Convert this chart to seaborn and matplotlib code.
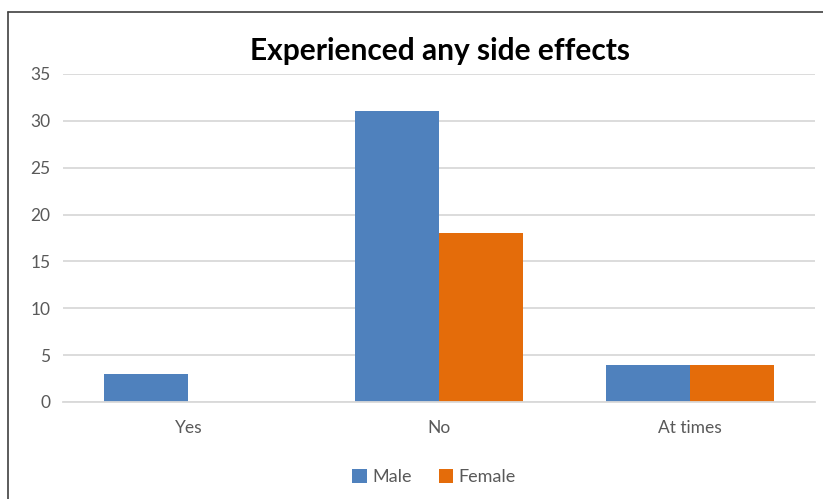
import matplotlib
matplotlib.use("Agg")
import matplotlib.pyplot as plt
import matplotlib.lines as mlines
import pandas as pd
import seaborn as sns

categories = ["Yes", "No", "At times"]
male = [3, 31, 4]
female = [0, 18, 4]
groups = ["Male", "Female"]
colors = ["#4F81BD", "#E46C0A"]
y_ticks = [0, 5, 10, 15, 20, 25, 30, 35]

df = pd.DataFrame({
    "Response": categories * 2,
    "Count": male + female,
    "Gender": [groups[0]] * len(categories) + [groups[1]] * len(categories),
})

sns.set_theme(style="white")
plt.rcParams["font.family"] = ["Lato", "DejaVu Sans"]

fig = plt.figure(figsize=(8.23, 4.99), dpi=100)
ax = fig.add_axes([63 / 823, 1 - 402 / 499, (815 - 63) / 823, (402 - 74) / 499])

sns.barplot(data=df, x="Response", y="Count", hue="Gender", order=categories,
            hue_order=groups, palette=colors, width=0.67, saturation=1,
            edgecolor="none", ax=ax, legend=True)

ax.set_ylim(0, 35)
ax.set_xlim(-0.5, 2.5)
ax.set_yticks(y_ticks)
ax.yaxis.grid(True, color="#d9d9d9", linewidth=1.3)
ax.set_axisbelow(True)
for s in ["top", "right", "left"]:
    ax.spines[s].set_visible(False)
ax.spines["bottom"].set_color("#d9d9d9")
ax.spines["bottom"].set_linewidth(1.3)
ax.set_xlabel("")
ax.set_ylabel("")
ax.tick_params(axis="y", length=0, pad=9, labelsize=12.5, labelcolor="#595959")
ax.tick_params(axis="x", length=0, pad=13, labelsize=12.5, labelcolor="#595959")

fig.text(440 / 823, 1 - 51 / 499, "Experienced any side effects", ha="center",
         va="center", fontsize=21.5, fontweight="bold", color="black")

handles, labels = ax.get_legend_handles_labels()
ax.legend_.remove()
fig.legend(handles, labels, loc="center", bbox_to_anchor=(434 / 823, 1 - 477 / 499),
           ncol=2, frameon=False, fontsize=13, labelcolor="#595959",
           handlelength=0.8, handleheight=0.8, handletextpad=0.3, columnspacing=1.5)

# chart frame
fig.add_artist(mlines.Line2D([8 / 823, 8 / 823], [0, 1 - 12 / 499], color="#404040",
                             linewidth=1.2, transform=fig.transFigure))
fig.add_artist(mlines.Line2D([8 / 823, 1], [1 - 12 / 499, 1 - 12 / 499], color="#404040",
                             linewidth=1.2, transform=fig.transFigure))

fig.savefig("out.png", dpi=100)
